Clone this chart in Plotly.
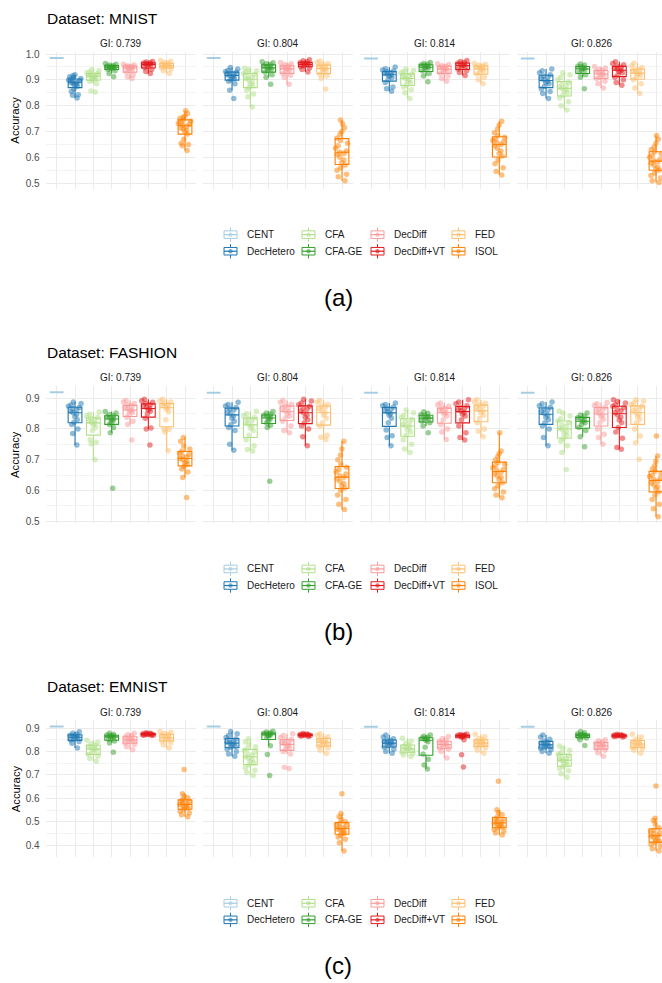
import plotly.graph_objects as go

# ---------------- data ----------------
methods = ["CENT", "DecHetero", "CFA", "CFA-GE", "DecDiff", "DecDiff+VT", "FED", "ISOL"]
colors = ["#A6CEE3", "#1F78B4", "#B2DF8A", "#33A02C", "#FB9A99", "#E31A1C", "#FDBF6F", "#FF7F00"]
gi_labels = ["GI: 0.739", "GI: 0.804", "GI: 0.814", "GI: 0.826"]
dataset_names = ["MNIST", "FASHION", "EMNIST"]
panel_tags = ["(a)", "(b)", "(c)"]

mnist_739 = {
    "CENT": [0.985],
    "DecHetero": [0.83, 0.84, 0.842, 0.855, 0.865, 0.875, 0.88, 0.883, 0.886, 0.889, 0.892, 0.894, 0.896, 0.899, 0.902, 0.905, 0.908, 0.912, 0.916, 0.92],
    "CFA": [0.853, 0.857, 0.885, 0.895, 0.9, 0.904, 0.908, 0.911, 0.914, 0.917, 0.919, 0.921, 0.924, 0.927, 0.93, 0.935, 0.94],
    "CFA-GE": [0.912, 0.925, 0.935, 0.94, 0.944, 0.946, 0.948, 0.95, 0.951, 0.953, 0.955, 0.957, 0.96, 0.963],
    "DecDiff": [0.905, 0.912, 0.92, 0.93, 0.938, 0.942, 0.945, 0.947, 0.949, 0.951, 0.953, 0.955, 0.957, 0.96],
    "DecDiff+VT": [0.925, 0.932, 0.94, 0.948, 0.953, 0.957, 0.959, 0.961, 0.963, 0.965, 0.967, 0.969, 0.971],
    "FED": [0.925, 0.935, 0.942, 0.947, 0.95, 0.952, 0.954, 0.956, 0.958, 0.96, 0.963, 0.967, 0.972, 0.976],
    "ISOL": [0.627, 0.645, 0.65, 0.655, 0.67, 0.69, 0.7, 0.705, 0.71, 0.715, 0.72, 0.725, 0.728, 0.731, 0.735, 0.74, 0.745, 0.75, 0.755, 0.76, 0.77, 0.78],
}
mnist_804 = {
    "CENT": [0.985],
    "DecHetero": [0.828, 0.86, 0.885, 0.895, 0.9, 0.905, 0.91, 0.914, 0.917, 0.92, 0.923, 0.926, 0.929, 0.932, 0.937, 0.942, 0.948],
    "CFA": [0.795, 0.835, 0.845, 0.86, 0.87, 0.878, 0.885, 0.893, 0.9, 0.905, 0.91, 0.915, 0.92, 0.925, 0.93, 0.935, 0.94, 0.945],
    "CFA-GE": [0.883, 0.91, 0.92, 0.93, 0.936, 0.94, 0.945, 0.948, 0.951, 0.955, 0.958, 0.962, 0.966, 0.97],
    "DecDiff": [0.883, 0.91, 0.918, 0.925, 0.932, 0.937, 0.941, 0.944, 0.947, 0.95, 0.954, 0.958, 0.962, 0.967],
    "DecDiff+VT": [0.93, 0.94, 0.946, 0.952, 0.955, 0.958, 0.96, 0.962, 0.964, 0.967, 0.97, 0.974, 0.978],
    "FED": [0.865, 0.905, 0.915, 0.922, 0.93, 0.935, 0.94, 0.944, 0.947, 0.95, 0.954, 0.958, 0.963, 0.968, 0.973],
    "ISOL": [0.51, 0.525, 0.535, 0.55, 0.56, 0.57, 0.58, 0.59, 0.6, 0.61, 0.615, 0.62, 0.625, 0.635, 0.645, 0.655, 0.665, 0.675, 0.69, 0.7, 0.715, 0.73, 0.745],
}
mnist_814 = {
    "CENT": [0.983],
    "DecHetero": [0.856, 0.866, 0.872, 0.89, 0.9, 0.908, 0.914, 0.918, 0.922, 0.925, 0.928, 0.931, 0.934, 0.938, 0.943, 0.95],
    "CFA": [0.828, 0.85, 0.862, 0.872, 0.88, 0.889, 0.895, 0.9, 0.905, 0.91, 0.914, 0.918, 0.922, 0.927, 0.932, 0.937, 0.942],
    "CFA-GE": [0.893, 0.915, 0.925, 0.935, 0.942, 0.946, 0.949, 0.952, 0.955, 0.957, 0.96, 0.963, 0.967],
    "DecDiff": [0.895, 0.905, 0.915, 0.925, 0.93, 0.935, 0.94, 0.943, 0.946, 0.949, 0.952, 0.955, 0.959, 0.962],
    "DecDiff+VT": [0.917, 0.928, 0.935, 0.942, 0.948, 0.952, 0.955, 0.958, 0.961, 0.964, 0.967, 0.971, 0.975],
    "FED": [0.885, 0.9, 0.91, 0.922, 0.93, 0.935, 0.94, 0.944, 0.947, 0.95, 0.953, 0.956, 0.96, 0.964],
    "ISOL": [0.532, 0.545, 0.56, 0.575, 0.59, 0.605, 0.615, 0.625, 0.635, 0.645, 0.65, 0.655, 0.66, 0.665, 0.67, 0.678, 0.685, 0.695, 0.71, 0.725, 0.74],
}
mnist_826 = {
    "CENT": [0.983],
    "DecHetero": [0.828, 0.847, 0.855, 0.865, 0.875, 0.885, 0.89, 0.895, 0.9, 0.905, 0.91, 0.915, 0.92, 0.927, 0.935, 0.942],
    "CFA": [0.783, 0.8, 0.815, 0.83, 0.84, 0.85, 0.856, 0.862, 0.867, 0.872, 0.878, 0.885, 0.891, 0.9, 0.91, 0.92, 0.927],
    "CFA-GE": [0.866, 0.91, 0.92, 0.929, 0.935, 0.94, 0.944, 0.947, 0.95, 0.953, 0.957, 0.961],
    "DecDiff": [0.868, 0.885, 0.895, 0.905, 0.91, 0.915, 0.92, 0.925, 0.928, 0.932, 0.936, 0.941, 0.946, 0.952],
    "DecDiff+VT": [0.879, 0.89, 0.9, 0.91, 0.92, 0.927, 0.932, 0.937, 0.941, 0.945, 0.949, 0.953, 0.958, 0.963, 0.97],
    "FED": [0.847, 0.868, 0.885, 0.9, 0.91, 0.917, 0.922, 0.926, 0.93, 0.934, 0.938, 0.942, 0.948, 0.955, 0.964],
    "ISOL": [0.503, 0.51, 0.52, 0.53, 0.54, 0.55, 0.555, 0.562, 0.57, 0.577, 0.583, 0.588, 0.594, 0.6, 0.607, 0.615, 0.622, 0.63, 0.64, 0.655, 0.67, 0.685],
}

fashion_739 = {
    "CENT": [0.92],
    "DecHetero": [0.748, 0.785, 0.8, 0.815, 0.822, 0.83, 0.84, 0.848, 0.853, 0.858, 0.862, 0.866, 0.87, 0.874, 0.878, 0.883, 0.888],
    "CFA": [0.7, 0.752, 0.757, 0.765, 0.795, 0.805, 0.812, 0.818, 0.822, 0.826, 0.83, 0.834, 0.838, 0.842, 0.848, 0.855],
    "CFA-GE": [0.607, 0.788, 0.805, 0.815, 0.822, 0.827, 0.831, 0.834, 0.837, 0.84, 0.843, 0.847, 0.852, 0.857],
    "DecDiff": [0.764, 0.815, 0.825, 0.838, 0.848, 0.853, 0.858, 0.862, 0.866, 0.87, 0.874, 0.878, 0.883, 0.888, 0.893],
    "DecDiff+VT": [0.748, 0.8, 0.803, 0.835, 0.85, 0.858, 0.863, 0.867, 0.871, 0.875, 0.879, 0.883, 0.887, 0.892, 0.897],
    "FED": [0.729, 0.79, 0.798, 0.8, 0.83, 0.855, 0.864, 0.869, 0.873, 0.877, 0.88, 0.884, 0.888, 0.892, 0.897],
    "ISOL": [0.577, 0.642, 0.66, 0.67, 0.678, 0.685, 0.69, 0.695, 0.7, 0.704, 0.708, 0.712, 0.717, 0.722, 0.728, 0.735, 0.745, 0.76, 0.772],
}
fashion_804 = {
    "CENT": [0.918],
    "DecHetero": [0.731, 0.75, 0.795, 0.805, 0.815, 0.825, 0.835, 0.842, 0.85, 0.856, 0.862, 0.866, 0.87, 0.875, 0.88, 0.887],
    "CFA": [0.728, 0.733, 0.745, 0.765, 0.78, 0.795, 0.803, 0.81, 0.817, 0.823, 0.828, 0.833, 0.838, 0.843, 0.85, 0.858],
    "CFA-GE": [0.63, 0.805, 0.812, 0.82, 0.827, 0.832, 0.836, 0.839, 0.842, 0.845, 0.848, 0.852, 0.857],
    "DecDiff": [0.788, 0.795, 0.81, 0.825, 0.835, 0.842, 0.85, 0.856, 0.861, 0.866, 0.871, 0.876, 0.881, 0.887, 0.893],
    "DecDiff+VT": [0.745, 0.775, 0.8, 0.81, 0.82, 0.83, 0.838, 0.846, 0.853, 0.859, 0.864, 0.869, 0.874, 0.879, 0.885, 0.891, 0.897],
    "FED": [0.766, 0.773, 0.78, 0.81, 0.82, 0.835, 0.845, 0.853, 0.86, 0.866, 0.871, 0.876, 0.881, 0.887, 0.893],
    "ISOL": [0.538, 0.555, 0.57, 0.585, 0.6, 0.608, 0.615, 0.622, 0.63, 0.637, 0.643, 0.648, 0.653, 0.66, 0.667, 0.675, 0.685, 0.7, 0.715, 0.735, 0.76],
}
fashion_814 = {
    "CENT": [0.918],
    "DecHetero": [0.745, 0.772, 0.778, 0.797, 0.82, 0.835, 0.845, 0.85, 0.855, 0.86, 0.864, 0.868, 0.872, 0.876, 0.88, 0.885],
    "CFA": [0.723, 0.735, 0.75, 0.765, 0.78, 0.79, 0.797, 0.805, 0.81, 0.815, 0.82, 0.826, 0.832, 0.838, 0.845, 0.853, 0.862],
    "CFA-GE": [0.788, 0.81, 0.82, 0.826, 0.83, 0.834, 0.837, 0.84, 0.843, 0.847, 0.851, 0.856],
    "DecDiff": [0.766, 0.79, 0.8, 0.815, 0.83, 0.842, 0.848, 0.853, 0.857, 0.861, 0.865, 0.869, 0.874, 0.879, 0.885],
    "DecDiff+VT": [0.764, 0.772, 0.788, 0.81, 0.83, 0.842, 0.848, 0.854, 0.859, 0.863, 0.867, 0.871, 0.876, 0.882, 0.888, 0.895],
    "FED": [0.775, 0.793, 0.8, 0.82, 0.835, 0.845, 0.853, 0.859, 0.865, 0.87, 0.874, 0.879, 0.884, 0.889, 0.895],
    "ISOL": [0.576, 0.585, 0.595, 0.605, 0.615, 0.625, 0.635, 0.642, 0.648, 0.654, 0.659, 0.664, 0.669, 0.674, 0.68, 0.686, 0.692, 0.7, 0.71, 0.72, 0.728, 0.788],
}
fashion_826 = {
    "CENT": [0.918],
    "DecHetero": [0.745, 0.772, 0.8, 0.81, 0.82, 0.83, 0.838, 0.845, 0.851, 0.856, 0.861, 0.866, 0.871, 0.876, 0.882, 0.888],
    "CFA": [0.668, 0.723, 0.745, 0.76, 0.77, 0.779, 0.785, 0.792, 0.798, 0.803, 0.808, 0.814, 0.82, 0.826, 0.833, 0.842, 0.852, 0.859],
    "CFA-GE": [0.742, 0.775, 0.795, 0.805, 0.815, 0.82, 0.825, 0.829, 0.833, 0.837, 0.841, 0.846, 0.852],
    "DecDiff": [0.75, 0.772, 0.783, 0.8, 0.82, 0.832, 0.84, 0.846, 0.852, 0.857, 0.862, 0.867, 0.872, 0.877, 0.882, 0.886],
    "DecDiff+VT": [0.734, 0.74, 0.77, 0.79, 0.805, 0.82, 0.829, 0.838, 0.846, 0.853, 0.859, 0.864, 0.869, 0.874, 0.879, 0.885, 0.89, 0.895],
    "FED": [0.701, 0.755, 0.777, 0.8, 0.82, 0.832, 0.84, 0.847, 0.853, 0.859, 0.864, 0.869, 0.874, 0.879, 0.885, 0.891, 0.895],
    "ISOL": [0.514, 0.54, 0.555, 0.57, 0.585, 0.595, 0.605, 0.612, 0.618, 0.624, 0.63, 0.635, 0.64, 0.645, 0.65, 0.656, 0.662, 0.67, 0.68, 0.695, 0.712, 0.777],
}

emnist_739 = {
    "CENT": [0.907],
    "DecHetero": [0.815, 0.835, 0.843, 0.849, 0.853, 0.857, 0.861, 0.864, 0.867, 0.87, 0.874, 0.878, 0.884],
    "CFA": [0.758, 0.77, 0.78, 0.788, 0.796, 0.802, 0.808, 0.813, 0.818, 0.822, 0.827, 0.833, 0.84, 0.848],
    "CFA-GE": [0.797, 0.836, 0.845, 0.852, 0.857, 0.861, 0.864, 0.866, 0.868, 0.871, 0.874, 0.878],
    "DecDiff": [0.808, 0.82, 0.83, 0.837, 0.842, 0.846, 0.85, 0.854, 0.858, 0.862, 0.867, 0.872, 0.878],
    "DecDiff+VT": [0.868, 0.87, 0.871, 0.872, 0.873, 0.874, 0.874, 0.875, 0.876, 0.877, 0.878, 0.88],
    "FED": [0.815, 0.828, 0.838, 0.845, 0.849, 0.853, 0.857, 0.861, 0.865, 0.869, 0.873, 0.877, 0.882, 0.886],
    "ISOL": [0.521, 0.53, 0.538, 0.545, 0.552, 0.558, 0.562, 0.566, 0.57, 0.574, 0.577, 0.581, 0.585, 0.589, 0.595, 0.602, 0.61, 0.62, 0.723],
}
emnist_804 = {
    "CENT": [0.907],
    "DecHetero": [0.78, 0.79, 0.8, 0.81, 0.818, 0.823, 0.828, 0.832, 0.836, 0.84, 0.844, 0.849, 0.854, 0.86, 0.868, 0.876, 0.886],
    "CFA": [0.698, 0.71, 0.72, 0.73, 0.742, 0.751, 0.758, 0.765, 0.772, 0.778, 0.783, 0.79, 0.797, 0.804, 0.811, 0.82, 0.83, 0.842, 0.855],
    "CFA-GE": [0.698, 0.787, 0.825, 0.86, 0.866, 0.869, 0.872, 0.874, 0.876, 0.878, 0.88, 0.883, 0.887],
    "DecDiff": [0.728, 0.733, 0.79, 0.8, 0.81, 0.815, 0.822, 0.828, 0.833, 0.838, 0.843, 0.848, 0.853, 0.86, 0.868, 0.876],
    "DecDiff+VT": [0.864, 0.866, 0.868, 0.869, 0.87, 0.871, 0.871, 0.872, 0.873, 0.874, 0.875, 0.877],
    "FED": [0.792, 0.805, 0.815, 0.822, 0.827, 0.832, 0.836, 0.84, 0.844, 0.848, 0.852, 0.857, 0.863, 0.87, 0.876],
    "ISOL": [0.375, 0.41, 0.425, 0.435, 0.443, 0.45, 0.455, 0.46, 0.465, 0.469, 0.473, 0.477, 0.482, 0.487, 0.493, 0.5, 0.51, 0.522, 0.535, 0.62],
}
emnist_814 = {
    "CENT": [0.906],
    "DecHetero": [0.793, 0.8, 0.81, 0.818, 0.824, 0.828, 0.832, 0.836, 0.839, 0.842, 0.846, 0.85, 0.855, 0.862, 0.871],
    "CFA": [0.779, 0.785, 0.792, 0.797, 0.802, 0.806, 0.81, 0.814, 0.818, 0.822, 0.828, 0.835, 0.845, 0.857],
    "CFA-GE": [0.725, 0.743, 0.767, 0.79, 0.818, 0.842, 0.848, 0.852, 0.855, 0.858, 0.861, 0.865, 0.871],
    "DecDiff": [0.772, 0.8, 0.81, 0.815, 0.82, 0.825, 0.83, 0.834, 0.838, 0.843, 0.848, 0.855, 0.864],
    "DecDiff+VT": [0.734, 0.786, 0.85, 0.862, 0.864, 0.866, 0.867, 0.868, 0.869, 0.87, 0.871, 0.873, 0.875],
    "FED": [0.793, 0.805, 0.815, 0.822, 0.826, 0.83, 0.834, 0.838, 0.842, 0.846, 0.85, 0.856, 0.863, 0.874],
    "ISOL": [0.444, 0.452, 0.46, 0.467, 0.473, 0.478, 0.483, 0.487, 0.491, 0.495, 0.499, 0.503, 0.508, 0.513, 0.52, 0.53, 0.54, 0.551, 0.673],
}
emnist_826 = {
    "CENT": [0.906],
    "DecHetero": [0.793, 0.8, 0.808, 0.814, 0.818, 0.822, 0.826, 0.829, 0.832, 0.835, 0.839, 0.845, 0.852, 0.862, 0.871],
    "CFA": [0.69, 0.705, 0.718, 0.728, 0.737, 0.744, 0.75, 0.756, 0.761, 0.766, 0.771, 0.776, 0.782, 0.788, 0.795, 0.805, 0.815, 0.824],
    "CFA-GE": [0.826, 0.85, 0.858, 0.862, 0.865, 0.867, 0.869, 0.871, 0.873, 0.876, 0.88, 0.886],
    "DecDiff": [0.78, 0.795, 0.805, 0.812, 0.817, 0.821, 0.825, 0.829, 0.833, 0.837, 0.841, 0.846, 0.85],
    "DecDiff+VT": [0.862, 0.864, 0.865, 0.866, 0.867, 0.868, 0.868, 0.869, 0.87, 0.871, 0.872, 0.874],
    "FED": [0.793, 0.805, 0.812, 0.817, 0.822, 0.826, 0.83, 0.834, 0.838, 0.842, 0.847, 0.853, 0.862, 0.874],
    "ISOL": [0.375, 0.385, 0.395, 0.403, 0.41, 0.416, 0.422, 0.428, 0.433, 0.438, 0.443, 0.448, 0.453, 0.459, 0.465, 0.475, 0.49, 0.505, 0.515, 0.653],
}

mnist_facets = [mnist_739, mnist_804, mnist_814, mnist_826]
fashion_facets = [fashion_739, fashion_804, fashion_814, fashion_826]
emnist_facets = [emnist_739, emnist_804, emnist_814, emnist_826]
all_datasets = [mnist_facets, fashion_facets, emnist_facets]

# ---------------- layout geometry (pixels) ----------------
W, H = 662, 983
FONT = "Liberation Sans, Arial, Helvetica, sans-serif"
SUB_STEP = 336.7                      # vertical offset between the three sub-figures
PANEL_X = [(45.7, 196.0), (202.7, 352.7), (360.0, 510.0), (516.7, 662.0)]
UNIT = 150.3 / 8.2                    # px per category
PLOT_TOP, PLOT_BOT = 49.0, 187.0
TITLE_Y, STRIP_Y = 15.5, 40.7
LEG_ROWS = (233.3, 250.0)
LEG_TEXT_X = [245.0, 323.0, 392.0, 473.0]
TAG_Y, TAG_X = 296.5, 338.0


def px_x(x):
    return x / W


def px_y(y):
    return 1 - y / H


fig = go.Figure()
annotations = []
shapes = []
layout_axes = {}

for d, facets in enumerate(all_datasets):
    off = d * SUB_STEP
    vals_all = [v for fac in facets for m in methods for v in fac[m]]
    lo, hi = min(vals_all), max(vals_all)
    pad = 0.05 * (hi - lo)
    yrange = [lo - pad, hi + pad]

    for f, fac in enumerate(facets):
        idx = d * 4 + f + 1
        sfx = "" if idx == 1 else str(idx)
        xref, yref = "x" + sfx, "y" + sfx
        for m, col in zip(methods, colors):
            vals = fac[m]
            is_cent = (m == "CENT")
            fig.add_trace(go.Box(
                y=vals, x=[m] * len(vals), xaxis=xref, yaxis=yref,
                width=0.75, whiskerwidth=0,
                boxpoints=False if is_cent else "all",
                jitter=1.0, pointpos=0,
                fillcolor="white",
                line=dict(color=col, width=2 if is_cent else 1.1),
                marker=dict(color=col, opacity=0.5, size=5.5, line=dict(width=0)),
                showlegend=False, hoverinfo="y",
            ))
        x0, x1 = PANEL_X[f]
        layout_axes["xaxis" + sfx] = dict(
            domain=[px_x(x0), px_x(x1)], anchor=yref,
            type="category", categoryorder="array", categoryarray=methods,
            range=[-0.6, -0.6 + (x1 - x0) / UNIT],
            showgrid=True, gridcolor="#ebebeb", gridwidth=1,
            showticklabels=False, ticks="", zeroline=False, showline=False,
        )
        layout_axes["yaxis" + sfx] = dict(
            domain=[px_y(PLOT_BOT + off), px_y(PLOT_TOP + off)], anchor=xref,
            range=yrange, tick0=0, dtick=0.1, tickformat=".1f",
            showticklabels=(f == 0), ticks="", ticklabelstandoff=5,
            tickfont=dict(family=FONT, size=10, color="#4d4d4d"),
            showgrid=True, gridcolor="#ebebeb", gridwidth=1,
            minor=dict(dtick=0.05, tick0=0, showgrid=True, gridcolor="#f3f3f3", gridwidth=0.7),
            zeroline=False, showline=False,
        )
        annotations.append(dict(
            text=gi_labels[f], xref="paper", yref="paper",
            x=px_x((x0 + x0 + 150.3) / 2), y=px_y(STRIP_Y + off),
            xanchor="center", yanchor="middle", showarrow=False,
            font=dict(family=FONT, size=10, color="#1a1a1a"),
        ))

    # title
    annotations.append(dict(
        text="Dataset: " + dataset_names[d], xref="paper", yref="paper",
        x=px_x(45.0), y=px_y(TITLE_Y + off), xanchor="left", yanchor="middle",
        showarrow=False, font=dict(family=FONT, size=15.5, color="#000000"),
    ))
    # y axis title
    annotations.append(dict(
        text="Accuracy", xref="paper", yref="paper", textangle=-90,
        x=px_x(15.5), y=px_y((PLOT_TOP + PLOT_BOT) / 2 + off),
        xanchor="center", yanchor="middle", showarrow=False,
        font=dict(family=FONT, size=11.3, color="#000000"),
    ))
    # sub-figure tag
    annotations.append(dict(
        text=panel_tags[d], xref="paper", yref="paper",
        x=px_x(TAG_X), y=px_y(TAG_Y + off), xanchor="center", yanchor="middle",
        showarrow=False, font=dict(family=FONT, size=24, color="#000000"),
    ))
    # legend (2 rows x 4 columns)
    for c in range(4):
        for r in range(2):
            mi = 2 * c + r
            col = colors[mi]
            ry = LEG_ROWS[r] + off
            tx = LEG_TEXT_X[c]
            cx = tx - 14.5
            shapes.append(dict(type="rect", xref="paper", yref="paper",
                               x0=px_x(cx - 6.5), x1=px_x(cx + 6.5),
                               y0=px_y(ry + 3.8), y1=px_y(ry - 3.8),
                               line=dict(color=col, width=1), fillcolor="white"))
            shapes.append(dict(type="line", xref="paper", yref="paper",
                               x0=px_x(cx - 6.5), x1=px_x(cx + 6.5),
                               y0=px_y(ry), y1=px_y(ry), line=dict(color=col, width=1.2)))
            shapes.append(dict(type="line", xref="paper", yref="paper",
                               x0=px_x(cx), x1=px_x(cx),
                               y0=px_y(ry - 3.8), y1=px_y(ry - 7.2), line=dict(color=col, width=1)))
            shapes.append(dict(type="line", xref="paper", yref="paper",
                               x0=px_x(cx), x1=px_x(cx),
                               y0=px_y(ry + 3.8), y1=px_y(ry + 7.2), line=dict(color=col, width=1)))
            shapes.append(dict(type="circle", xref="paper", yref="paper",
                               x0=px_x(cx - 2.2), x1=px_x(cx + 2.2),
                               y0=px_y(ry + 2.2), y1=px_y(ry - 2.2),
                               line=dict(width=0), fillcolor=col, opacity=0.6))
            annotations.append(dict(
                text=methods[mi], xref="paper", yref="paper",
                x=px_x(tx), y=px_y(ry), xanchor="left", yanchor="middle",
                showarrow=False, font=dict(family=FONT, size=10, color="#1a1a1a"),
            ))

fig.update_layout(
    width=W, height=H, autosize=False,
    margin=dict(l=0, r=0, t=0, b=0, pad=0),
    paper_bgcolor="white", plot_bgcolor="white",
    boxmode="overlay", showlegend=False,
    font=dict(family=FONT),
    annotations=annotations, shapes=shapes,
    **layout_axes,
)

fig.write_html("out.html", config={"displayModeBar": False})
